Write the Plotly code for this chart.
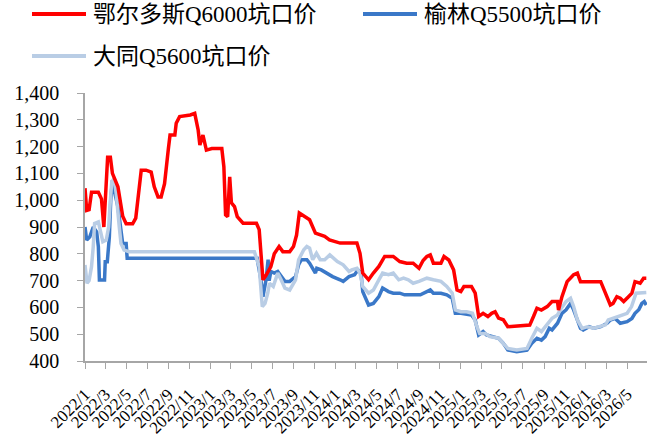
import plotly.graph_objects as go

# 鄂尔多斯Q6000坑口价
ordos_dates = [
    "2022-01-01", "2022-01-06", "2022-01-13", "2022-01-20", "2022-02-09", "2022-02-18", "2022-02-25",
    "2022-03-01", "2022-03-08", "2022-03-16", "2022-03-22", "2022-04-07", "2022-04-13", "2022-04-21",
    "2022-05-01", "2022-05-20", "2022-05-29", "2022-06-04", "2022-06-09", "2022-06-14", "2022-06-28",
    "2022-07-13", "2022-07-22", "2022-08-02", "2022-08-11", "2022-08-21", "2022-09-01", "2022-09-06",
    "2022-09-20", "2022-09-24", "2022-10-04", "2022-11-04", "2022-11-17", "2022-11-27", "2022-12-02",
    "2022-12-11", "2022-12-21", "2023-01-06", "2023-02-04", "2023-02-10", "2023-02-15", "2023-02-21",
    "2023-02-27", "2023-03-04", "2023-03-13", "2023-03-21", "2023-04-07", "2023-05-16", "2023-05-24",
    "2023-06-04", "2023-06-13", "2023-06-27", "2023-07-07", "2023-07-21", "2023-08-01", "2023-08-21",
    "2023-09-01", "2023-09-10", "2023-09-18", "2023-10-01", "2023-10-18", "2023-11-04", "2023-11-18",
    "2023-12-01", "2023-12-15", "2024-01-15", "2024-03-04", "2024-03-13", "2024-03-21", "2024-04-07",
    "2024-04-21", "2024-05-07", "2024-05-24", "2024-06-18", "2024-07-07", "2024-07-27", "2024-08-15",
    "2024-09-01", "2024-09-13", "2024-09-24", "2024-10-04", "2024-10-13", "2024-11-04", "2024-11-13",
    "2024-11-27", "2024-12-11", "2024-12-21", "2025-01-01", "2025-01-10", "2025-02-01", "2025-02-12",
    "2025-02-22", "2025-03-07", "2025-03-21", "2025-04-01", "2025-04-11", "2025-04-21", "2025-05-05",
    "2025-05-18", "2025-06-04", "2025-07-21", "2025-08-01", "2025-08-11", "2025-08-24", "2025-09-10",
    "2025-09-24", "2025-10-10", "2025-10-13", "2025-10-23", "2025-11-07", "2025-11-26", "2025-12-07",
    "2025-12-16", "2026-02-13", "2026-02-27", "2026-03-13", "2026-03-21", "2026-04-01", "2026-04-11",
    "2026-04-21", "2026-05-05", "2026-05-15", "2026-05-24", "2026-06-08", "2026-06-18", "2026-06-26",
]
ordos_price = [
    1045, 962, 965, 1030, 1030, 1005, 900,
    1000, 1160, 1160, 1100, 1050, 1000, 940,
    912, 912, 933, 1010, 1045, 1112, 1112,
    1105, 1050, 1012, 1012, 1062, 1190, 1243,
    1243, 1287, 1312, 1318, 1324, 1262, 1206,
    1243, 1187, 1193, 1193, 1125, 945, 939,
    1087, 990, 976, 939, 914, 914, 890,
    703, 720, 752, 800, 827, 808, 808,
    827, 870, 952, 940, 927, 877, 871,
    865, 852, 840, 840, 802, 728, 703,
    728, 753, 790, 790, 771, 765, 765,
    746, 775, 790, 796, 765, 765, 790,
    777, 740, 665, 659, 678, 678, 653,
    566, 578, 566, 578, 584, 560, 554,
    528, 530, 534, 566, 597, 590, 603,
    622, 622, 590, 640, 696, 722, 728,
    696, 696, 653, 609, 615, 640, 634,
    622, 640, 653, 696, 690, 709, 709,
]

# 榆林Q5500坑口价
yulin_dates = [
    "2022-01-01", "2022-01-06", "2022-01-15", "2022-01-25", "2022-02-04", "2022-02-09", "2022-02-12",
    "2022-02-27", "2022-03-01", "2022-03-07", "2022-03-13", "2022-03-17", "2022-03-22", "2022-03-27",
    "2022-04-07", "2022-04-16", "2022-04-21", "2022-05-01", "2022-05-04", "2023-05-18", "2023-05-29",
    "2023-06-04", "2023-06-08", "2023-06-13", "2023-06-19", "2023-06-22", "2023-06-27", "2023-07-07",
    "2023-07-17", "2023-07-27", "2023-08-07", "2023-08-21", "2023-09-07", "2023-09-16", "2023-09-24",
    "2023-10-10", "2023-10-18", "2023-11-04", "2023-11-08", "2023-11-21", "2023-12-07", "2023-12-24",
    "2024-01-15", "2024-01-24", "2024-02-10", "2024-02-26", "2024-03-07", "2024-03-16", "2024-03-21",
    "2024-04-07", "2024-04-21", "2024-05-07", "2024-05-18", "2024-06-04", "2024-06-18", "2024-07-07",
    "2024-07-21", "2024-09-05", "2024-09-24", "2024-10-04", "2024-10-13", "2024-11-04", "2024-11-21",
    "2024-12-07", "2024-12-16", "2025-01-01", "2025-02-01", "2025-02-12", "2025-02-22", "2025-03-07",
    "2025-03-17", "2025-04-07", "2025-04-21", "2025-05-05", "2025-05-18", "2025-06-13", "2025-07-13",
    "2025-07-27", "2025-08-11", "2025-08-24", "2025-09-04", "2025-09-16", "2025-09-24", "2025-10-10",
    "2025-10-23", "2025-11-04", "2025-11-17", "2025-11-26", "2025-12-07", "2025-12-16", "2025-12-24",
    "2026-01-10", "2026-01-24", "2026-02-13", "2026-03-04", "2026-03-13", "2026-03-27", "2026-04-11",
    "2026-05-01", "2026-05-15", "2026-05-24", "2026-06-04", "2026-06-13", "2026-06-20", "2026-06-26",
]
yulin_price = [
    900, 851, 863, 900, 882, 826, 702,
    702, 770, 770, 863, 1000, 1075, 1037,
    975, 900, 838, 838, 783, 783, 703,
    640, 666, 703, 778, 700, 734, 728,
    734, 715, 697, 697, 715, 759, 778,
    778, 765, 728, 746, 740, 728, 715,
    703, 697, 715, 722, 740, 728, 659,
    609, 615, 640, 672, 659, 653, 653,
    647, 647, 659, 665, 653, 653, 647,
    634, 578, 578, 572, 553, 497, 510,
    497, 491, 485, 466, 441, 435, 441,
    466, 485, 478, 491, 522, 516, 541,
    578, 591, 615, 591, 553, 522, 516,
    528, 522, 528, 541, 553, 559, 541,
    547, 559, 578, 591, 615, 622, 609,
]

# 大同Q5600坑口价
datong_dates = [
    "2022-01-01", "2022-01-07", "2022-01-13", "2022-01-20", "2022-01-25", "2022-01-29", "2022-02-09",
    "2022-02-16", "2022-02-22", "2022-03-04", "2022-03-11", "2022-03-16", "2022-03-20", "2022-03-27",
    "2022-04-02", "2022-04-11", "2022-04-16", "2022-04-25", "2022-05-10", "2023-05-10", "2023-05-24",
    "2023-06-02", "2023-06-10", "2023-06-18", "2023-06-23", "2023-07-04", "2023-07-17", "2023-07-27",
    "2023-08-07", "2023-08-21", "2023-09-07", "2023-09-16", "2023-10-01", "2023-10-10", "2023-10-18",
    "2023-10-27", "2023-11-07", "2023-11-18", "2023-12-01", "2023-12-16", "2024-01-07", "2024-01-24",
    "2024-02-10", "2024-02-18", "2024-03-04", "2024-03-13", "2024-03-21", "2024-04-07", "2024-04-21",
    "2024-05-07", "2024-05-18", "2024-06-04", "2024-06-18", "2024-07-04", "2024-07-18", "2024-08-01",
    "2024-08-15", "2024-09-01", "2024-09-15", "2024-09-24", "2024-10-13", "2024-11-04", "2024-11-21",
    "2024-12-07", "2024-12-16", "2025-01-01", "2025-01-18", "2025-02-04", "2025-02-17", "2025-02-25",
    "2025-03-13", "2025-03-27", "2025-04-21", "2025-05-05", "2025-05-18", "2025-06-13", "2025-07-13",
    "2025-07-27", "2025-08-11", "2025-08-24", "2025-09-10", "2025-09-24", "2025-10-10", "2025-10-18",
    "2025-11-04", "2025-11-17", "2025-11-26", "2025-12-07", "2025-12-21", "2026-01-05", "2026-01-24",
    "2026-02-13", "2026-02-27", "2026-03-07", "2026-03-21", "2026-04-11", "2026-05-01", "2026-05-14",
    "2026-05-27", "2026-06-26",
]
datong_price = [
    758, 690, 700, 752, 826, 913, 919,
    876, 845, 851, 900, 1000, 1068, 1081,
    1025, 900, 838, 814, 808, 808, 752,
    603, 615, 653, 690, 678, 728, 703,
    672, 665, 703, 778, 815, 827, 821,
    778, 802, 778, 778, 796, 771, 759,
    734, 740, 746, 728, 678, 653, 665,
    703, 728, 722, 728, 703, 709, 703,
    690, 697, 703, 709, 703, 697, 678,
    653, 591, 584, 584, 578, 528, 503,
    503, 491, 485, 466, 447, 441, 447,
    485, 522, 510, 535, 559, 572, 591,
    622, 634, 603, 553, 522, 528, 522,
    528, 535, 553, 559, 566, 578, 603,
    653, 656,
]

FONT = "Liberation Serif, Noto Sans CJK SC, serif"
AXIS_GREY = "#A6A6A6"

series = [
    # name, dates, values, colour, legend row, legend column
    ("榆林Q5500坑口价", yulin_dates, yulin_price, "#3A78C8", 0, 1),
    ("大同Q5600坑口价", datong_dates, datong_price, "#B9CDE5", 1, 0),
    ("鄂尔多斯Q6000坑口价", ordos_dates, ordos_price, "#FF0000", 0, 0),
]

fig = go.Figure()

for name, dates, values, colour, row, col in series:
    fig.add_trace(go.Scatter(
        x=dates, y=values, name=name, mode="lines",
        line=dict(color=colour, width=3.5),
    ))

# legend drawn by hand so the key lines can be as long as in the original
# plot area: x 85..647 px, y 93..361 px
PX0, PW, PY1, PH = 85, 562, 361, 268
col_left = [32, 363]
row_mid = [14, 56]
for name, dates, values, colour, row, col in series:
    x0 = (col_left[col] - PX0) / PW
    x1 = (col_left[col] + 54 - PX0) / PW
    yy = (PY1 - row_mid[row]) / PH
    fig.add_shape(type="line", xref="paper", yref="paper",
                  x0=x0, x1=x1, y0=yy, y1=yy,
                  line=dict(color=colour, width=4))
    fig.add_annotation(xref="paper", yref="paper", x=x1 + 5 / PW, y=yy,
                       xanchor="left", yanchor="middle", showarrow=False,
                       text=name, font=dict(family=FONT, size=23, color="#000000"))

fig.update_layout(
    width=657, height=439,
    margin=dict(l=85, r=10, t=93, b=78),
    paper_bgcolor="white", plot_bgcolor="white",
    font=dict(family=FONT, color="#000000"),
    showlegend=False,
    xaxis=dict(
        type="date", automargin=False,
        range=["2022-01-01", "2026-06-28"],
        tick0="2022-01-01", dtick="M2",
        tickformat="%Y/%-m", tickangle=-45,
        tickfont=dict(family=FONT, size=17),
        showline=True, linecolor=AXIS_GREY, linewidth=1.5,
        ticks="outside", ticklen=6, tickcolor=AXIS_GREY,
        showgrid=False, zeroline=False,
        ticklabelstandoff=9,
    ),
    yaxis=dict(
        automargin=False,
        range=[400, 1400], dtick=100, tickformat=",",
        tickfont=dict(family=FONT, size=20),
        showline=True, linecolor=AXIS_GREY, linewidth=1.5,
        ticks="outside", ticklen=6, tickcolor=AXIS_GREY,
        showgrid=False, zeroline=False,
        ticklabelstandoff=14,
    ),
)

# drop the browser's default 8px body margin so the figure fills the window
fig.write_html("out.html", config={"displayModeBar": False},
               post_script="document.body.style.margin = '0';")
